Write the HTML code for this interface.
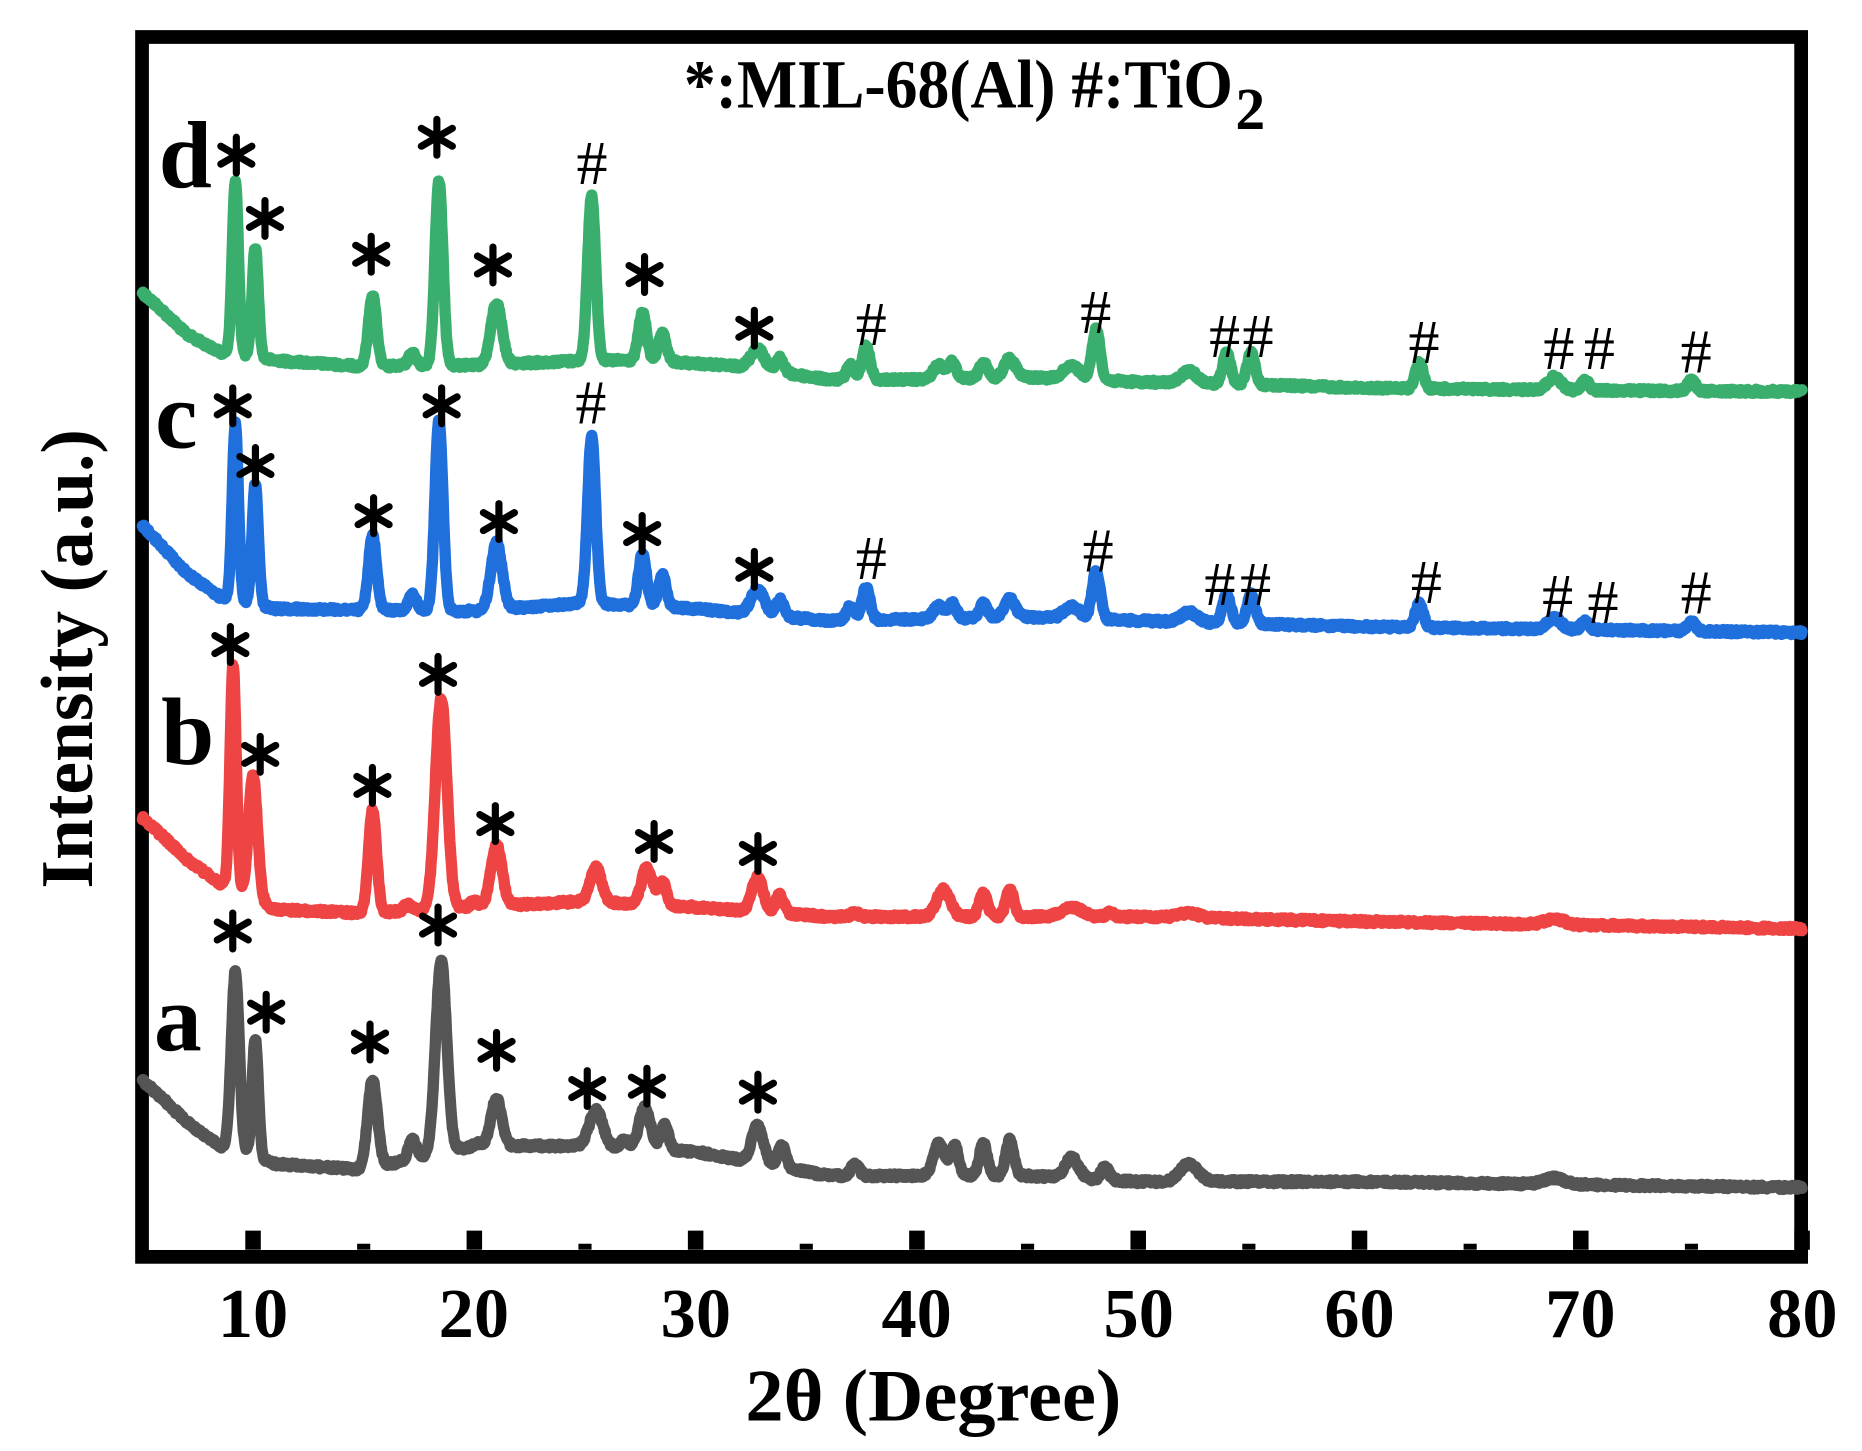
<!DOCTYPE html>
<html><head><meta charset="utf-8">
<style>html,body{margin:0;padding:0;background:#fff;}svg{display:block;}</style>
</head><body>
<svg id="s" width="1862" height="1451" viewBox="0 0 1862 1451" xmlns="http://www.w3.org/2000/svg">
<g id="g" transform="scale(1.1936)" font-family="'Liberation Serif',serif">
<rect x="119" y="31" width="1390" height="1022" fill="none" stroke="#000" stroke-width="11.5"/>
<g font-weight="bold" font-size="59" text-anchor="middle">
<text x="212" y="1120">10</text><text x="397" y="1120">20</text><text x="583" y="1120">30</text><text x="768" y="1120">40</text>
<text x="954" y="1120">50</text><text x="1139" y="1120">60</text><text x="1324" y="1120">70</text><text x="1510" y="1120">80</text>
</g>
<text x="782" y="1190" font-weight="bold" font-size="62" text-anchor="middle" textLength="315" lengthAdjust="spacingAndGlyphs">2θ (Degree)</text>
<text transform="translate(77,552) rotate(-90)" font-weight="bold" font-size="62" text-anchor="middle" textLength="385" lengthAdjust="spacingAndGlyphs">Intensity (a.u.)</text>
<text x="573" y="90" font-weight="bold" font-size="58" textLength="460" lengthAdjust="spacingAndGlyphs">*:MIL-68(Al) #:TiO</text>
<text x="1035" y="108" font-weight="bold" font-size="50">2</text>
<g font-weight="bold" font-size="80">
<text x="133" y="157">d</text><text x="130" y="375">c</text><text x="135" y="640">b</text><text x="129" y="880">a</text>
</g>
</g>
</svg>
<script>
(function(){
var NS="http://www.w3.org/2000/svg",g=document.getElementById('g');
function X(v){return 212+(v-10)*18.54;}
function el(n,a){var e=document.createElementNS(NS,n);for(var k in a)e.setAttribute(k,a[k]);g.appendChild(e);return e;}
for(var v=10;v<=80;v+=5){var L=(v%10==0)?16:5;el('line',{x1:X(v),x2:X(v),y1:1047,y2:1047-L,stroke:'#000','stroke-width':(v%10==0)?13:11});}
var seed=12345;function rnd(){seed=(seed*1103515245+12345)%2147483648;return seed/2147483648;}
function interp(bp,x){for(var i=0;i<bp.length-1;i++){if(x<=bp[i+1][0]){var t=(x-bp[i][0])/(bp[i+1][0]-bp[i][0]);return bp[i][1]+t*(bp[i+1][1]-bp[i][1]);}}return bp[bp.length-1][1];}
function series(bp,pk,col){
 var d="";
 for(var x=5;x<=80.001;x+=0.03){
  var y=interp(bp,x);
  for(var i=0;i<pk.length;i++){var p=pk[i],s=p[2]||(p[0]<12?0.14:0.18);var h=interp(bp,p[0])-p[1];y-=h*Math.exp(-Math.pow(x-p[0],2)/(2*s*s));}
  y+=(rnd()-0.5)*3.5;
  d+=(d?"L":"M")+X(x).toFixed(1)+","+y.toFixed(1);
 }
 el('path',{d:d,fill:'none',stroke:col,'stroke-width':9.5,'stroke-linejoin':'round','stroke-linecap':'round'});
}
var ptsD=[[9.2,152],[10.1,207],[15.4,247],[18.4,152],[21,254,0.25],[25.3,164],[27.6,262],[28.5,280],[32.8,292,0.3],[33.8,300],[37,306],[37.7,290],[41,306,0.25],[41.6,304],[43,304],[44.2,300,0.25],[47,306,0.35],[48.1,276],[52.3,311,0.35],[54,296],[55.1,296],[62.7,304],[68.8,316,0.3],[70.2,319],[75,319],[17.2,296]];
series([[5,245],[6,262],[7,280],[8.5,295],[11,302],[15,307],[20,306],[25,302],[28,302],[32,307],[36,318],[40,318],[45,316],[50,320],[55,322],[60,325],[70,327],[80,328]],ptsD,'#3aae6c');
var ptsC=ptsD.map(function(p){return [p[0],p[1]+(p[0]<12?203:202),p[2]];});
ptsC[1][1]=405;ptsC[4][1]=455;ptsC[3][1]=352;
series([[5,440],[6,460],[7,480],[8.5,500],[11,510],[20,512],[25,505],[30,510],[36,520],[45,517],[50,520],[60,525],[80,530]],ptsC,'#1f6fdc');
series([[5,685],[6,702],[7,720],[8.5,740],[11,762],[15,765],[20,760],[25,755],[30,760],[36,768],[45,768],[50,768],[60,772],[80,778]],
 [[9.1,557],[10,650,0.2],[15.4,678],[18.5,585,0.26],[21,708,0.25],[25.5,727,0.25],[27.8,727,0.25],[28.5,739],[32.8,735,0.25],[33.8,750],[37.2,765],[41.2,745,0.3],[43,748],[44.2,745],[47,760,0.45],[48.7,765],[52.3,765,0.45],[17,758],[20,755],[68.8,770,0.45]],'#ee4444');
series([[5,905],[6,922],[7,940],[8.5,960],[11,975],[15,980],[20,960],[25,960],[30,965],[36,985],[45,985],[50,990],[60,990],[80,995]],
 [[9.2,814,0.18],[10.1,870],[15.4,905,0.22],[18.5,805,0.25],[21,920,0.24],[25.5,930,0.3],[27.7,928,0.26],[28.6,943],[32.8,943,0.26],[33.9,960],[37.2,975],[41,958,0.25],[41.7,960],[43,958],[44.2,955],[47,970,0.3],[48.5,978],[52.3,975,0.4],[17.2,955],[20.2,958],[26.8,955],[68.8,987,0.45]],'#555555');
function star(cx,cy){for(var a=0;a<3;a++){var r=a*Math.PI/3,dx=15*Math.sin(r),dy=15*Math.cos(r);el('line',{x1:cx-dx,y1:cy-dy,x2:cx+dx,y2:cy+dy,stroke:'#000','stroke-width':6,'stroke-linecap':'round'});}}
function hash(cx,cy){var t=el('text',{x:cx,y:cy+17,'font-size':52,'text-anchor':'middle'});t.textContent='#';}
[[198,130],[222,183],[311,213],[366,115],[413,222],[540,230],[632,275],
 [195,340],[214,390],[313,432],[370,340],[418,437],[538,447],[632,477],
 [193,540],[218,632],[312,658],[367,565],[415,690],[548,705],[635,715],
 [195,780],[223,848],[310,873],[367,775],[416,880],[492,912],[542,910],[635,915]].forEach(function(p){star(p[0],p[1]);});
[[496,137],[730,272],[918,262],[1026,282],[1054,282],[1193,287],[1306,292],[1340,292],[1421,295],
 [495,338],[730,468],[920,462],[1022,490],[1052,490],[1195,488],[1305,500],[1343,505],[1421,497]].forEach(function(p){hash(p[0],p[1]);});
})();
</script>
</body></html>
